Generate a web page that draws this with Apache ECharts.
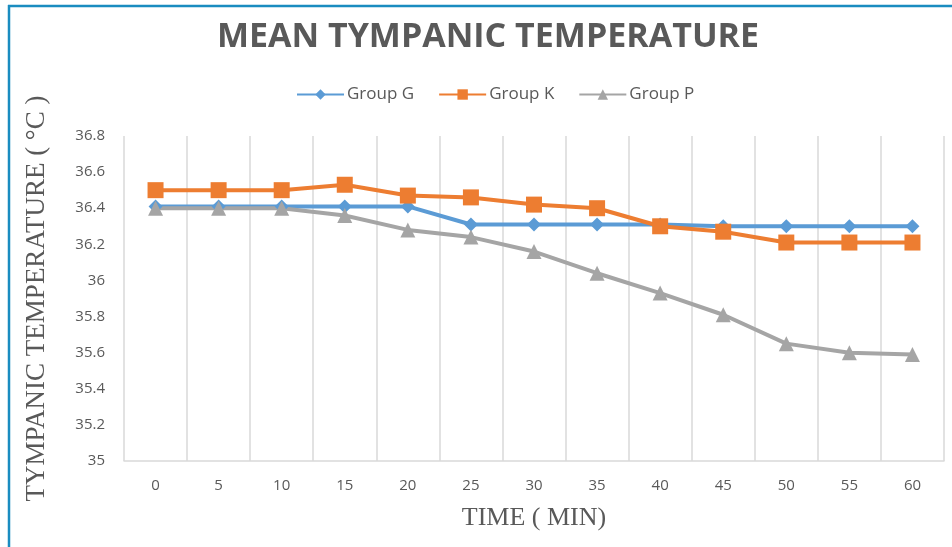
<!DOCTYPE html>
<html><head><meta charset="utf-8">
<script src="https://cdn.jsdelivr.net/npm/echarts@6/dist/echarts.min.js"></script>
<style>html,body{margin:0;padding:0;background:#fff}#c{width:952px;height:547px}</style>
</head><body><div id="c"></div>
<script>
const categories = ['0','5','10','15','20','25','30','35','40','45','50','55','60'];
const groupG = [36.41,36.41,36.41,36.41,36.41,36.31,36.31,36.31,36.31,36.30,36.30,36.30,36.30];
const groupK = [36.50,36.50,36.50,36.53,36.47,36.46,36.42,36.40,36.30,36.27,36.21,36.21,36.21];
const groupP = [36.40,36.40,36.40,36.36,36.28,36.24,36.16,36.04,35.93,35.81,35.65,35.60,35.59];
const chart = echarts.init(document.getElementById('c'), null, {renderer:'canvas'});
const txt = '#595959';
function ser(name, data, color, symbol, size){
  return {name, type:'line', data, symbol, symbolSize:size,
    lineStyle:{color, width:4}, itemStyle:{color}, emphasis:{disabled:true}};
}
chart.setOption({
  animation:false,
  title:{text:'MEAN TYMPANIC TEMPERATURE', left:483, top:15, textAlign:'center',
    textStyle:{fontFamily:'Open Sans', fontWeight:'bold', fontSize:34, color:txt}},
  legend:{top:81, left:291, itemWidth:47, itemHeight:13, itemGap:24,
    textStyle:{fontFamily:'Open Sans', fontSize:17, color:txt, padding:[0,0,0,-2]},
    data:['Group G','Group K','Group P']},
  grid:{left:124, right:8, top:136, bottom:86, containLabel:false},
  xAxis:{type:'category', data:categories, boundaryGap:true,
    name:'TIME ( MIN)', nameLocation:'middle', nameGap:44,
    nameTextStyle:{fontFamily:'Liberation Serif', fontSize:26, color:txt},
    axisLine:{lineStyle:{color:'#d9d9d9', width:1.5}}, axisTick:{show:false},
    axisLabel:{fontFamily:'Open Sans', fontSize:15, color:txt, margin:17},
    splitLine:{show:true, lineStyle:{color:'#d9d9d9', width:1.5}}},
  yAxis:{type:'value', min:35, max:36.8, interval:0.2,
    name:'TYMPANIC TEMPERATURE ( °C )', nameLocation:'middle', nameGap:74,
    nameTextStyle:{fontFamily:'Liberation Serif', fontSize:27, color:txt},
    axisLine:{show:false}, axisTick:{show:false}, splitLine:{show:false},
    axisLabel:{fontFamily:'Open Sans', fontSize:15, color:txt, margin:19}},
  series:[
    ser('Group G', groupG, '#5B9BD5', 'diamond', 14),
    ser('Group K', groupK, '#ED7D31', 'rect', 16),
    ser('Group P', groupP, '#A5A5A5', 'triangle', 15)
  ],
  graphic:[
    {type:'line', shape:{x1:8, y1:6, x2:952, y2:6}, style:{stroke:'#1a8cc0', lineWidth:2.5}},
    {type:'line', shape:{x1:9, y1:5, x2:9, y2:547}, style:{stroke:'#1a8cc0', lineWidth:2.5}}
  ]
});
</script></body></html>
